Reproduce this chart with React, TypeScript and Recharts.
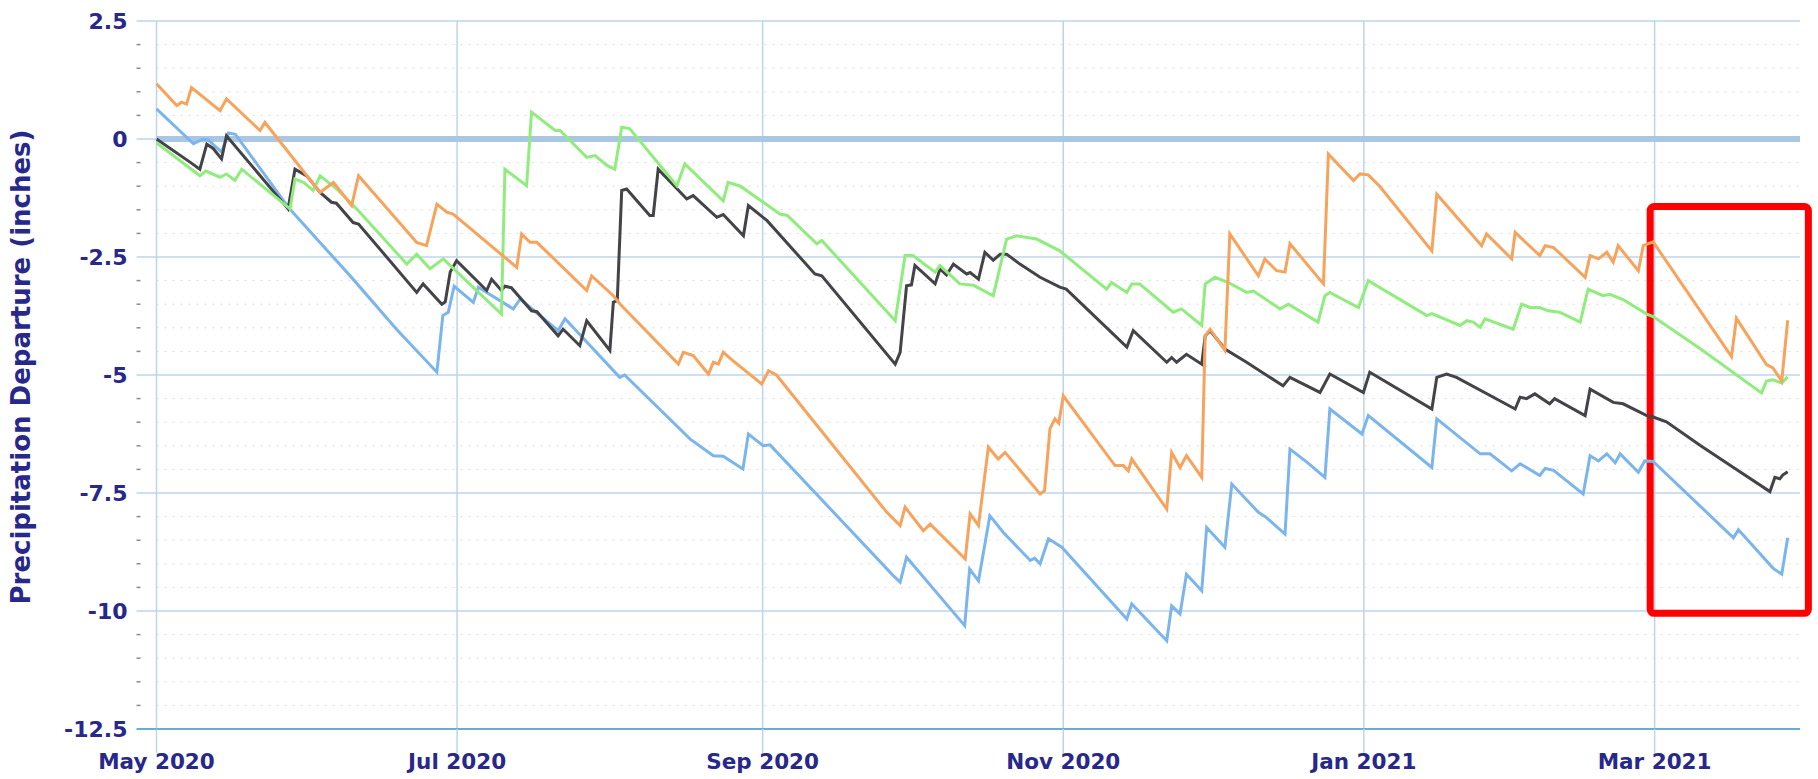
import { LineChart, Line, XAxis, YAxis, CartesianGrid, ReferenceLine, ReferenceArea, Label } from 'recharts';

// days counted from 1 May 2020
const monthTicks = [0, 61, 123, 184, 245, 304];
const monthLabels = ['May 2020', 'Jul 2020', 'Sep 2020', 'Nov 2020', 'Jan 2021', 'Mar 2021'];

const majorTicks = [-12.5, -10, -7.5, -5, -2.5, 0, 2.5];
const minorTicks = [
  -12, -11.5, -11, -10.5, -9.5, -9, -8.5, -8, -7, -6.5, -6, -5.5,
  -4.5, -4, -3.5, -3, -2, -1.5, -1, -0.5, 0.5, 1, 1.5, 2,
];

// [day, departure in inches]
const blueSeries: [number, number][] = [
  [0, 0.64], [7.5, -0.1], [9.5, 0.0], [10.5, -0.02], [13.2, -0.28], [14.6, 0.13], [16, 0.1],
  [27, -1.48], [39.3, -2.9], [48.7, -4.03], [56.9, -4.94], [58.1, -3.74], [59.2, -3.67],
  [60.4, -3.12], [64.3, -3.46], [65.3, -3.14], [72.4, -3.6], [73.8, -3.39], [81.5, -4.06],
  [82.9, -3.81], [94, -5.05], [95, -5.0], [108.3, -6.36], [113, -6.71], [115, -6.72],
  [119, -6.99], [120.1, -6.25], [123.1, -6.5], [124.5, -6.48], [149.5, -9.25], [150.9, -9.39],
  [152.2, -8.86], [164, -10.31], [165, -9.11], [166.8, -9.36], [169.1, -7.98], [171.8, -8.33],
  [177.3, -8.93], [178.2, -8.88], [179.3, -9.0], [181, -8.47], [183.7, -8.65], [196.9, -10.17],
  [197.9, -9.85], [205, -10.63], [206, -9.89], [207.7, -10.06], [209, -9.22], [212.1, -9.57],
  [213.1, -8.23], [216.8, -8.65], [218.2, -7.31], [223.6, -7.91], [225, -8.0], [229, -8.37],
  [230, -6.57], [233.5, -6.85], [237.1, -7.17], [238.1, -5.72], [244.6, -6.25], [245.9, -5.86],
  [258.8, -6.96], [259.8, -5.93], [268.6, -6.67], [270.6, -6.67], [275, -7.03], [276.7, -6.88],
  [280.7, -7.13], [281.8, -6.98], [283.5, -7.02], [289.5, -7.52], [290.9, -6.71], [292.6, -6.82],
  [294.3, -6.67], [296, -6.86], [297, -6.67], [300.7, -7.06], [302, -6.82], [303.7, -6.83],
  [320, -8.45], [321, -8.28], [328.1, -9.1], [329.8, -9.22], [331, -8.45],
];

const blackSeries: [number, number][] = [
  [0, 0.0], [6.8, -0.49], [8.8, -0.64], [10.2, -0.11], [11.5, -0.2], [13.2, -0.42], [14.2, 0.07],
  [26.7, -1.48], [28.1, -0.64], [30.5, -0.78], [33.2, -1.13], [35.5, -1.34], [36.5, -1.36],
  [39.9, -1.77], [41, -1.8], [52.8, -3.25], [54.1, -3.07], [57.9, -3.5], [58.6, -3.45],
  [59.6, -2.82], [60.9, -2.58], [67, -3.21], [68, -2.97], [70, -3.21], [70.7, -3.12], [72, -3.15],
  [76.1, -3.64], [77.2, -3.66], [81.5, -4.17], [82.5, -4.03], [83.2, -4.1], [85.9, -4.38],
  [87.3, -3.85], [92, -4.48], [92.7, -3.46], [93.5, -3.42], [94.4, -1.09], [95.4, -1.06],
  [100.1, -1.62], [100.8, -1.62], [101.8, -0.64], [107.6, -1.27], [108.9, -1.2], [113.7, -1.66],
  [115, -1.6], [119.1, -2.05], [120.1, -1.41], [123.9, -1.73], [133.6, -2.86], [135, -2.9],
  [149.9, -4.77], [150.9, -4.52], [152.2, -3.11], [153.2, -3.09], [153.9, -2.68], [158, -3.07],
  [159, -2.75], [160.3, -2.88], [161.7, -2.65], [164.4, -2.86], [165.1, -2.83], [166.8, -2.97],
  [168.1, -2.4], [169.8, -2.57], [171.2, -2.44], [172.5, -2.44], [175.2, -2.65], [179.3, -2.93],
  [183.3, -3.14], [184.6, -3.18], [196.9, -4.41], [198.2, -4.06], [205, -4.73], [206, -4.63],
  [207, -4.73], [209, -4.56], [212.1, -4.77], [212.8, -4.17], [213.8, -4.06], [216.8, -4.45],
  [221.2, -4.73], [228.6, -5.23], [230, -5.05], [236.1, -5.37], [238.1, -4.98], [244.9, -5.37],
  [246.2, -4.94], [258.8, -5.72], [259.8, -5.05], [261.8, -4.98], [263.8, -5.05], [275.7, -5.72],
  [276.7, -5.47], [278, -5.5], [279.7, -5.4], [282.7, -5.61], [283.7, -5.5], [289.9, -5.86],
  [290.9, -5.3], [295.6, -5.58], [297.6, -5.61], [302.4, -5.86], [303.7, -5.89], [306.4, -5.99],
  [313.2, -6.49], [320, -6.96], [327.4, -7.47], [328.4, -7.17], [329.4, -7.2], [330, -7.12],
  [331, -7.05],
];

const greenSeries: [number, number][] = [
  [0, -0.08], [8.8, -0.78], [10, -0.68], [12.9, -0.81], [14.2, -0.74], [15.9, -0.88], [17.3, -0.64],
  [27.1, -1.48], [28.1, -0.85], [29.8, -0.92], [31.8, -1.09], [33.2, -0.78], [36.6, -1.06],
  [40.6, -1.48], [50.8, -2.65], [52.8, -2.44], [55.5, -2.75], [58.2, -2.54], [70, -3.71],
  [70.7, -0.64], [75.1, -0.99], [76.1, 0.57], [80.9, 0.18], [81.9, 0.18], [87.3, -0.39],
  [89, -0.35], [91.4, -0.56], [93, -0.64], [94.4, 0.25], [96, 0.22], [105.6, -0.99], [107.2, -0.53],
  [115, -1.31], [116, -0.92], [118.5, -1.0], [126.5, -1.59], [128, -1.62], [134, -2.22],
  [135, -2.15], [149.9, -3.85], [151.9, -2.47], [153.5, -2.47], [158, -2.82], [159, -2.68],
  [159.7, -2.75], [163, -3.07], [165.8, -3.1], [169.8, -3.32], [172.5, -2.12], [174.5, -2.05],
  [178.6, -2.12], [183.3, -2.37], [187.4, -2.72], [192.8, -3.18], [193.8, -3.04], [196.9, -3.25],
  [197.9, -3.07], [199.5, -3.07], [206.3, -3.67], [208, -3.6], [212.1, -3.95], [212.8, -3.07],
  [214.8, -2.93], [217.5, -3.04], [221.2, -3.25], [222.6, -3.22], [228, -3.6], [229.7, -3.5],
  [235.7, -3.88], [237.1, -3.32], [238.1, -3.25], [243.9, -3.57], [245.9, -3.0], [254.4, -3.53],
  [257.8, -3.74], [258.8, -3.7], [264.5, -3.95], [265.9, -3.85], [267.2, -3.88], [268.6, -3.99],
  [269.6, -3.81], [275.3, -4.03], [277, -3.5], [278.7, -3.57], [280.7, -3.57], [282.4, -3.64],
  [284.7, -3.67], [288.9, -3.88], [290.5, -3.18], [293.5, -3.32], [294.9, -3.29], [297.6, -3.4],
  [302.4, -3.71], [303.7, -3.76], [313.2, -4.44], [325.7, -5.38], [326.7, -5.13], [328, -5.1],
  [329.8, -5.17], [331, -5.04],
];

const orangeSeries: [number, number][] = [
  [0, 1.17], [4.1, 0.71], [5.1, 0.78], [6.1, 0.74], [7.1, 1.09], [12.9, 0.6], [14.2, 0.85],
  [21, 0.18], [22, 0.35], [33.2, -1.13], [35.9, -0.92], [39.6, -1.41], [41, -0.78], [52.8, -2.19],
  [54.8, -2.26], [56.9, -1.38], [58.9, -1.55], [60.2, -1.59], [73.1, -2.72], [74.1, -2.01],
  [75.8, -2.19], [77.2, -2.19], [87.3, -3.21], [88.3, -2.9], [92.7, -3.32], [94.1, -3.5],
  [105.9, -4.77], [106.9, -4.52], [108.9, -4.59], [112, -4.98], [113, -4.73], [114, -4.77],
  [115, -4.52], [117, -4.7], [122.8, -5.19], [124.2, -4.91], [125.8, -5.0], [148.2, -7.91],
  [150.9, -8.19], [151.9, -7.8], [155.6, -8.3], [157, -8.16], [164.1, -8.9], [165.1, -7.94],
  [166.8, -8.19], [168.8, -6.53], [170.8, -6.78], [172.2, -6.64], [179.3, -7.52], [180.2, -7.45],
  [181.3, -6.14], [182.3, -5.93], [183.1, -6.02], [184, -5.44], [194.5, -6.92], [196.2, -6.92],
  [197.2, -7.03], [197.9, -6.78], [205, -7.84], [206, -6.64], [207.7, -6.96], [209, -6.71],
  [212.1, -7.17], [212.8, -4.17], [213.8, -4.03], [216.8, -4.48], [217.8, -2.01], [223.6, -2.9],
  [224.9, -2.54], [227.3, -2.79], [229, -2.82], [230, -2.22], [236.8, -3.07], [237.8, -0.32],
  [242.9, -0.88], [244.2, -0.74], [245.9, -0.76], [248.2, -1.0], [258.8, -2.37], [259.8, -1.17],
  [268.9, -2.26], [269.9, -2.01], [275, -2.54], [275.7, -1.98], [280.7, -2.47], [281.8, -2.26],
  [283.5, -2.3], [289.9, -2.93], [290.9, -2.47], [292.6, -2.54], [294.3, -2.4], [295.6, -2.61],
  [296.6, -2.26], [300.7, -2.79], [301.7, -2.26], [303.7, -2.18], [319.6, -4.61], [320.6, -3.8],
  [326.7, -4.78], [328, -4.85], [329.8, -5.13], [331, -3.84],
];

const toRows = (s: [number, number][]) => s.map(([day, value]) => ({ day, value }));

const GRID = '#bcd4ec';
const AXIS = '#69acd6';
const TEXT = '#28288a';
const FONT = '"DejaVu Sans", sans-serif';

function YTick(props: any) {
  const { x, y, payload } = props;
  const v = payload.value;
  // x is where the label ends; plot edge is 29px to the right (tickMargin + tickSize)
  const edge = x + 29;
  if (!majorTicks.includes(v)) {
    return <line x1={edge - 20} x2={edge - 16} y1={y} y2={y} stroke="#8c8c8c" strokeWidth={1.5} />;
  }
  return (
    <g>
      <line x1={edge - 20} x2={edge} y1={y} y2={y} stroke={v === -12.5 ? AXIS : GRID} strokeWidth={v === -12.5 ? 2 : 1.5} />
      <text x={x} y={y} dy="0.36em" textAnchor="end" fill={TEXT} fontSize={22} fontWeight="bold" fontFamily={FONT}>
        {v}
      </text>
    </g>
  );
}

function AxisTitle(props: any) {
  const vb = props.viewBox || { x: 0, y: 21, height: 708 };
  const cx = vb.x + 21;
  const cy = vb.y + vb.height / 2 - 8;
  return (
    <text
      x={cx}
      y={cy}
      transform={`rotate(-90, ${cx}, ${cy})`}
      textAnchor="middle"
      dominantBaseline="central"
      fill={TEXT}
      fontSize={26}
      fontWeight="bold"
      fontFamily={FONT}
    >
      Precipitation Departure (inches)
    </text>
  );
}

export default function App() {
  return (
    <div>
      <style>{'body{margin:0;background:#fff}'}</style>
      <LineChart width={1818} height={779} margin={{ top: 21, right: 18, bottom: 0, left: 0 }}>
        <CartesianGrid vertical={false} horizontalValues={minorTicks} stroke="#dddddd" strokeDasharray="2 6" strokeWidth={1} />
        <CartesianGrid horizontalValues={majorTicks} verticalValues={monthTicks} stroke={GRID} strokeWidth={1.5} />
        <XAxis
          dataKey="day"
          type="number"
          domain={[0, 333.5]}
          ticks={monthTicks}
          interval={0}
          allowDuplicatedCategory={false}
          tickFormatter={(d: number) => monthLabels[monthTicks.indexOf(d)] ?? ''}
          height={50}
          tickSize={24}
          tickMargin={1}
          tickLine={{ stroke: GRID, strokeWidth: 1.5 }}
          axisLine={{ stroke: AXIS, strokeWidth: 2 }}
          tick={{ fill: TEXT, fontSize: 21.5, fontWeight: 'bold', fontFamily: FONT }}
        />
        <YAxis
          type="number"
          domain={[-12.5, 2.5]}
          ticks={[...majorTicks, ...minorTicks].sort((a, b) => a - b)}
          interval={0}
          width={156.5}
          tickSize={20}
          tickMargin={9}
          tickLine={false}
          axisLine={false}
          tick={<YTick />}
        >
          <Label content={<AxisTitle />} />
        </YAxis>
        <ReferenceLine y={0} stroke="#a9c7e3" strokeWidth={6} />
        <Line data={toRows(blueSeries)} dataKey="value" stroke="#7cb5ec" strokeWidth={3} dot={false} isAnimationActive={false} />
        <Line data={toRows(blackSeries)} dataKey="value" stroke="#434348" strokeWidth={3} dot={false} isAnimationActive={false} />
        <Line data={toRows(greenSeries)} dataKey="value" stroke="#90ed7d" strokeWidth={3} dot={false} isAnimationActive={false} />
        <Line data={toRows(orangeSeries)} dataKey="value" stroke="#f7a35c" strokeWidth={3} dot={false} isAnimationActive={false} />
        <ReferenceArea
          x1={303.1}
          x2={335.2}
          y1={-10.05}
          y2={-1.43}
          ifOverflow="visible"
          shape={(p: any) => (
            <rect x={p.x} y={p.y} width={p.width} height={p.height} rx={4} fill="none" stroke="#ff0000" strokeWidth={7} />
          )}
        />
      </LineChart>
    </div>
  );
}
